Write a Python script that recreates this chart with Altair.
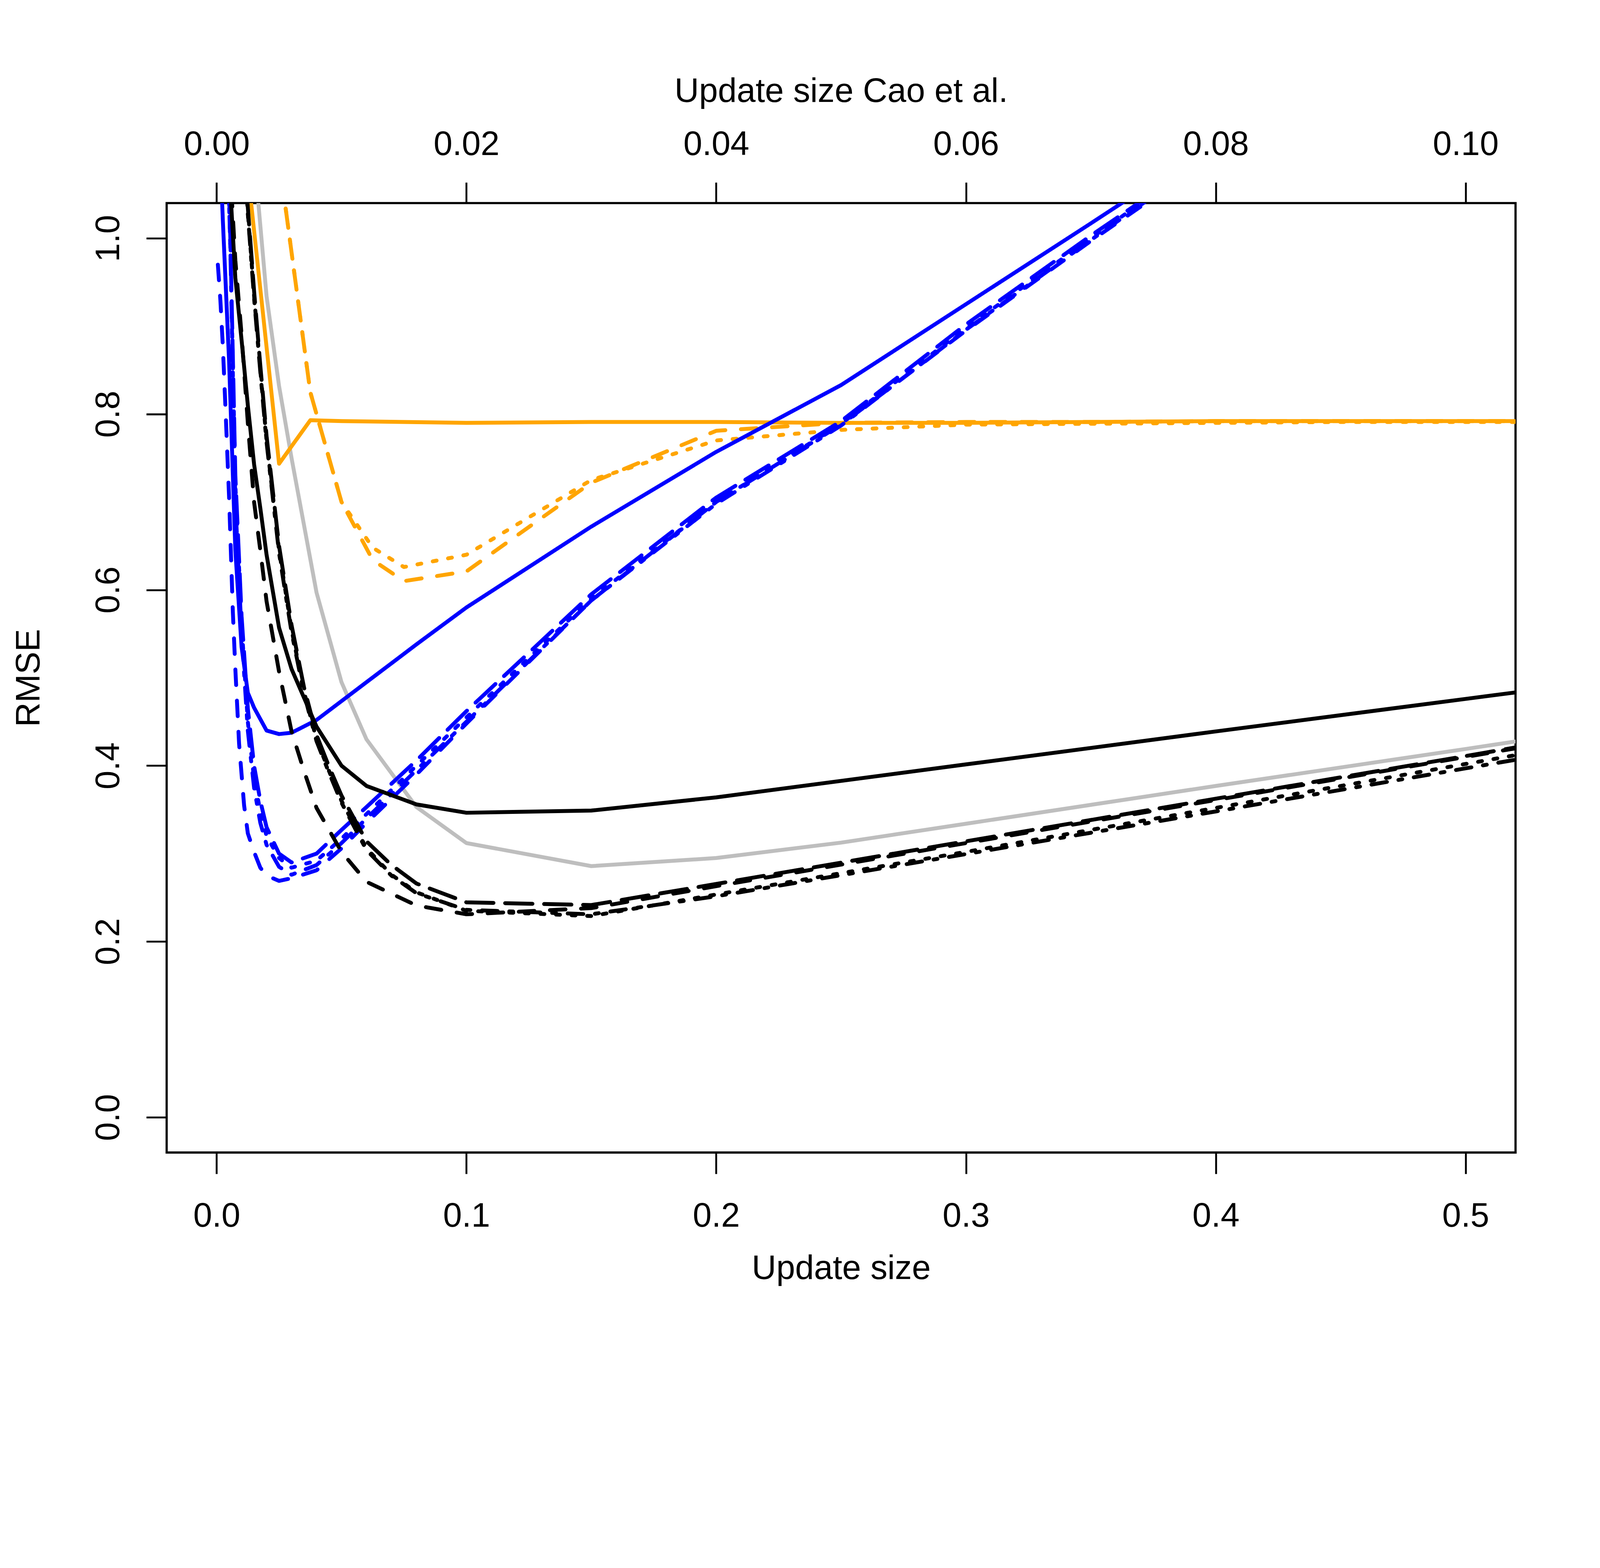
import altair as alt
import pandas as pd

FONT = "Liberation Sans"

# ---------------- data (x = update size, y = RMSE) ----------------
# black solid
blk_solid_x = [0.004, 0.005, 0.0075, 0.01, 0.0125, 0.015, 0.0175, 0.02, 0.025, 0.03, 0.04, 0.05, 0.06, 0.08, 0.1, 0.15, 0.2, 0.3, 0.4, 0.5, 0.6]
blk_solid_y = [1.14, 1.08, 0.955, 0.884, 0.81, 0.743, 0.693, 0.64, 0.557, 0.51, 0.4445, 0.40, 0.377, 0.356, 0.3465, 0.349, 0.364, 0.4015, 0.439, 0.476, 0.513]
# black dashed
blk_dash_x = [0.004, 0.005, 0.0075, 0.01, 0.0125, 0.015, 0.0175, 0.02, 0.025, 0.03, 0.035, 0.04, 0.05, 0.06, 0.08, 0.1, 0.15, 0.2, 0.3, 0.4, 0.5, 0.6]
blk_dash_y = [1.16, 1.10, 0.975, 0.89, 0.79, 0.70, 0.645, 0.587, 0.507, 0.439, 0.394, 0.352, 0.302, 0.268, 0.241, 0.231, 0.238, 0.263, 0.312, 0.361, 0.41, 0.459]
# black long dash
blk_long_x = [0.01, 0.0125, 0.015, 0.0175, 0.02, 0.025, 0.03, 0.035, 0.04, 0.045, 0.05, 0.06, 0.07, 0.08, 0.1, 0.15, 0.2, 0.3, 0.4, 0.5, 0.6]
blk_long_y = [1.135, 1.035, 0.94, 0.855, 0.775, 0.65, 0.56, 0.489, 0.435, 0.399, 0.366, 0.314, 0.287, 0.266, 0.2446, 0.2415, 0.2655, 0.314, 0.3625, 0.411, 0.46]
# black dotted
blk_dot_x = [0.01, 0.0125, 0.015, 0.0175, 0.02, 0.025, 0.03, 0.035, 0.04, 0.045, 0.05, 0.06, 0.07, 0.08, 0.1, 0.15, 0.2, 0.3, 0.4, 0.5, 0.6]
blk_dot_y = [1.13, 1.03, 0.935, 0.85, 0.77, 0.645, 0.555, 0.484, 0.43, 0.394, 0.36, 0.306, 0.276, 0.256, 0.235, 0.229, 0.2535, 0.302, 0.352, 0.402, 0.452]
# black dot-dash
blk_dotdash_x = [0.01, 0.0125, 0.015, 0.0175, 0.02, 0.025, 0.03, 0.035, 0.04, 0.045, 0.05, 0.06, 0.07, 0.08, 0.1, 0.15, 0.2, 0.3, 0.4, 0.5, 0.6]
blk_dotdash_y = [1.125, 1.028, 0.932, 0.848, 0.768, 0.642, 0.552, 0.482, 0.428, 0.392, 0.358, 0.304, 0.275, 0.255, 0.236, 0.231, 0.2515, 0.2995, 0.348, 0.397, 0.446]
# grey solid
grey_x = [0.01, 0.015, 0.02, 0.025, 0.03, 0.04, 0.05, 0.06, 0.08, 0.1, 0.15, 0.2, 0.25, 0.3, 0.4, 0.5, 0.6]
grey_y = [1.30, 1.095, 0.934, 0.832, 0.75, 0.597, 0.495, 0.43, 0.353, 0.312, 0.2858, 0.295, 0.3125, 0.334, 0.377, 0.419, 0.462]
# blue solid
blue_solid_x = [0.001, 0.0025, 0.005, 0.0075, 0.01, 0.0125, 0.015, 0.02, 0.025, 0.03, 0.04, 0.06, 0.08, 0.1, 0.15, 0.2, 0.25, 0.3, 0.35, 0.4]
blue_solid_y = [1.13, 1.02, 0.86, 0.645, 0.535, 0.483, 0.466, 0.44, 0.436, 0.4375, 0.452, 0.495, 0.538, 0.58, 0.672, 0.757, 0.833, 0.925, 1.017, 1.11]
# blue dashed
blue_dash_x = [0.0005, 0.0015, 0.0025, 0.0035, 0.005, 0.0065, 0.0075, 0.009, 0.011, 0.0125, 0.015, 0.0175, 0.02, 0.025, 0.03, 0.04, 0.05, 0.06, 0.08, 0.1, 0.15, 0.2, 0.25, 0.3, 0.35, 0.4]
blue_dash_y = [0.97, 0.93, 0.877, 0.81, 0.705, 0.575, 0.51, 0.425, 0.355, 0.323, 0.302, 0.284, 0.275, 0.269, 0.272, 0.281, 0.306, 0.335, 0.39, 0.448, 0.588, 0.70, 0.788, 0.895, 0.997, 1.095]
# blue long dash / dotted / dot-dash
blue_inner_x = [0.004, 0.0055, 0.0075, 0.01, 0.0125, 0.015, 0.0175, 0.02, 0.025, 0.03, 0.04, 0.05, 0.06, 0.08, 0.1, 0.15, 0.2, 0.25, 0.3, 0.35, 0.4]
blue_long_y = [1.15, 1.0, 0.73, 0.57, 0.465, 0.40, 0.36, 0.33, 0.30, 0.29, 0.30, 0.327, 0.353, 0.406, 0.462, 0.595, 0.705, 0.792, 0.902, 1.003, 1.10]
blue_dot_y = [1.14, 0.99, 0.72, 0.56, 0.45, 0.385, 0.348, 0.32, 0.295, 0.284, 0.292, 0.317, 0.345, 0.40, 0.455, 0.59, 0.70, 0.789, 0.898, 1.0, 1.1]
blue_dotdash_y = [1.14, 0.99, 0.70, 0.55, 0.44, 0.375, 0.335, 0.31, 0.285, 0.276, 0.287, 0.312, 0.34, 0.395, 0.45, 0.588, 0.698, 0.787, 0.896, 0.998, 1.098]
# orange (Cao et al. grid, expressed on the bottom axis)
orange_solid_x = [0.0125, 0.025, 0.0375, 0.05, 0.075, 0.1, 0.15, 0.2, 0.25, 0.3, 0.35, 0.4, 0.45, 0.5, 0.55]
orange_solid_y = [1.075, 0.7435, 0.793, 0.792, 0.791, 0.790, 0.791, 0.791, 0.790, 0.790, 0.791, 0.792, 0.792, 0.792, 0.792]
orange_x = [0.0125, 0.025, 0.0375, 0.05, 0.0625, 0.075, 0.1, 0.15, 0.2, 0.25, 0.3, 0.35, 0.4, 0.45, 0.5, 0.55]
orange_dash_y = [1.35, 1.09, 0.825, 0.70, 0.634, 0.610, 0.621, 0.722, 0.781, 0.790, 0.791, 0.791, 0.792, 0.792, 0.792, 0.792]
orange_dot_y = [1.35, 1.09, 0.825, 0.70, 0.648, 0.626, 0.640, 0.725, 0.770, 0.782, 0.788, 0.789, 0.790, 0.791, 0.791, 0.791]

bottom_ticks = [0.0, 0.1, 0.2, 0.3, 0.4, 0.5]
top_ticks = [0.0, 0.02, 0.04, 0.06, 0.08, 0.10]
y_ticks = [0.0, 0.2, 0.4, 0.6, 0.8, 1.0]

# ---------------- styles ----------------
U = 11.5
LTY = {
    "dashed": [4 * U, 4 * U],
    "dotted": [1 * U, 3 * U],
    "dotdash": [1 * U, 3 * U, 4 * U, 3 * U],
    "longdash": [7 * U, 3 * U],
}
BLACK, GREY, BLUE, ORANGE = "#000000", "#BEBEBE", "#0000FF", "#FFA500"

series = [
    (grey_x, grey_y, GREY, "solid"),
    (orange_solid_x, orange_solid_y, ORANGE, "solid"),
    (orange_x, orange_dash_y, ORANGE, "dashed"),
    (orange_x, orange_dot_y, ORANGE, "dotted"),
    (blue_solid_x, blue_solid_y, BLUE, "solid"),
    (blue_dash_x, blue_dash_y, BLUE, "dashed"),
    (blue_inner_x, blue_long_y, BLUE, "longdash"),
    (blue_inner_x, blue_dot_y, BLUE, "dotted"),
    (blue_inner_x, blue_dotdash_y, BLUE, "dotdash"),
    (blk_solid_x, blk_solid_y, BLACK, "solid"),
    (blk_dash_x, blk_dash_y, BLACK, "dashed"),
    (blk_long_x, blk_long_y, BLACK, "longdash"),
    (blk_dot_x, blk_dot_y, BLACK, "dotted"),
    (blk_dotdash_x, blk_dotdash_y, BLACK, "dotdash"),
]

W, H = 3980, 2802

xscale = alt.Scale(domain=[-0.02, 0.52], nice=False, zero=False)
yscale = alt.Scale(domain=[-0.04, 1.04], nice=False, zero=False)

common_axis = dict(
    grid=False, domain=False, ticks=True, tickWidth=5.5, tickColor="black",
    labelFont=FONT, labelFontSize=100, labelColor="black", labelFlush=False,
    labelOverlap=False, labelLimit=3000, titleFont=FONT, titleFontSize=100,
    titleFontWeight="normal", titleColor="black", titleLimit=4000,
)

def x_axis():
    return alt.Axis(
        orient="bottom", values=bottom_ticks, format=".1f", title="Update size",
        tickSize=63, labelPadding=155, labelBaseline="alphabetic",
        titleBaseline="alphabetic", titleAlign="center", titleX=W / 2, titleY=373,
        **common_axis,
    )

def y_axis():
    return alt.Axis(
        orient="left", values=y_ticks, format=".1f", title="RMSE",
        tickSize=60, labelPadding=81, labelAngle=270, labelAlign="center",
        labelBaseline="alphabetic", titleAngle=270, titleBaseline="alphabetic",
        titleAlign="center", titleX=-376, titleY=H / 2,
        **common_axis,
    )

top_axis = alt.Axis(
    orient="top", values=top_ticks, format=".2f", title="Update size Cao et al.",
    tickSize=61, labelPadding=81, labelBaseline="alphabetic",
    titleBaseline="alphabetic", titleAlign="center", titleX=W / 2, titleY=-299,
    **common_axis,
)

layers = []
for xs, ys, col, lty in series:
    df = pd.DataFrame({"x": xs, "y": ys})
    mark_kwargs = dict(color=col, strokeWidth=11.5, strokeCap="round",
                       strokeJoin="round", clip=True)
    if lty in LTY:
        mark_kwargs["strokeDash"] = LTY[lty]
    layers.append(
        alt.Chart(df).mark_line(**mark_kwargs).encode(
            x=alt.X("x:Q", scale=xscale, axis=x_axis()),
            y=alt.Y("y:Q", scale=yscale, axis=y_axis()),
        )
    )

data_layer = alt.layer(*layers)

top_df = pd.DataFrame({"xc": [0.0, 0.10]})
top_layer = alt.Chart(top_df).mark_point(opacity=0).encode(
    x=alt.X("xc:Q", scale=alt.Scale(domain=[-0.004, 0.104], nice=False, zero=False),
            axis=top_axis),
    y=alt.value(0),
)

chart = (
    alt.layer(data_layer, top_layer)
    .resolve_scale(x="independent")
    .properties(
        width=W, height=H,
        autosize=alt.AutoSizeParams(type="none"),
        padding={"left": 482.5, "top": 286.3, "right": 240, "bottom": 895},
        background="white",
    )
    .configure_view(stroke="black", strokeWidth=6.5)
)

chart.save("out.html", embed_options={"renderer": "svg", "actions": False})
